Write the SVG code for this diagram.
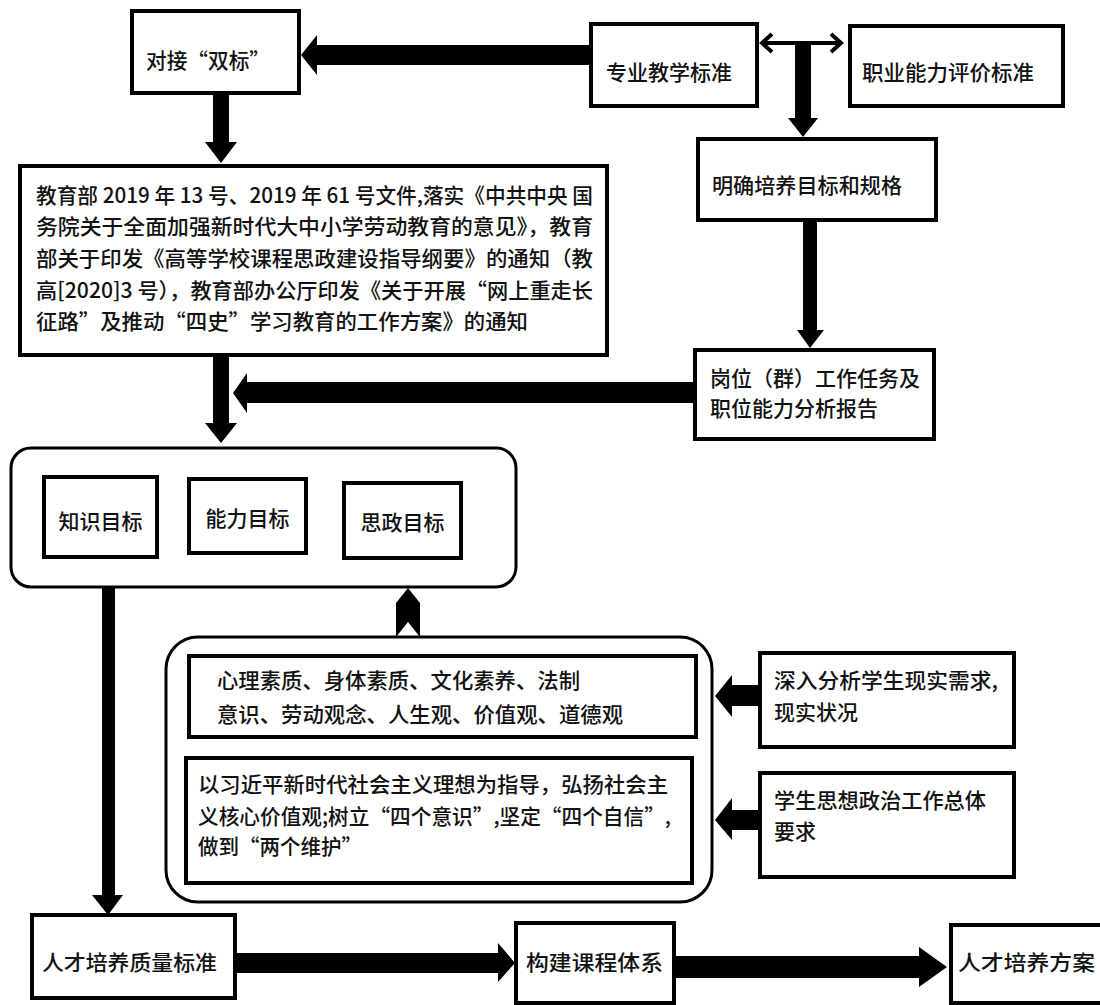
<svg xmlns="http://www.w3.org/2000/svg" width="1100" height="1005" viewBox="0 0 1100 1005">
<style>
.box{fill:#fff;stroke:#000;stroke-width:4}
.rbox{fill:#fff;stroke:#000;stroke-width:3}
.t{font-family:"Noto Sans CJK SC","Liberation Serif",sans-serif;font-size:21px;font-weight:500;fill:#111}
.arr{fill:#000;stroke:none}
</style>
<rect width="1100" height="1005" fill="#fff"/>
<g id="connectors">
<polygon class="arr" points="590,45 317,45 317,35 301,55 317,75 317,65 590,65"/>
<polygon class="arr" points="213,93 229,93 229,142 237,142 221,163 205,142 213,142"/>
<g fill="none" stroke="#000" stroke-width="4" stroke-linejoin="miter">
<line x1="762" y1="43" x2="841" y2="43"/>
<polyline points="772,34 762,43 772,52"/>
<polyline points="831,34 841,43 831,52"/>
</g>
<polygon class="arr" points="795,43 811,43 811,118 818,118 803,137 788,118 795,118"/>
<polygon class="arr" points="803,220 817,220 817,330 824,330 810,348 797,330 803,330"/>
<polygon class="arr" points="695,382 247,382 247,373 233,393 247,413 247,403 695,403"/>
<polygon class="arr" points="213,355 229,355 229,423 237,423 221,443 205,423 213,423"/>
<polygon class="arr" points="102,587 115,587 115,895 123,895 108,915 92,895 102,895"/>
<polygon class="arr" points="396,637 396,603 408,588 420,603 420,637 408,622"/>
<polygon class="arr" points="760,685 732,685 732,675 715,696 732,717 732,706 760,706"/>
<polygon class="arr" points="760,810 732,810 732,798 715,820 732,840 732,830 760,830"/>
<polygon class="arr" points="235,953 498,953 498,943 515,963 498,982 498,973 235,973"/>
<polygon class="arr" points="674,956 919,956 919,947 947,967 919,987 919,978 674,978"/>
</g>
<g id="n-duijie"><rect class="box" x="132" y="11" width="167" height="82"/><text class="t" x="146" y="68" textLength="124" lengthAdjust="spacingAndGlyphs">对接“双标”</text></g>
<g id="n-zhuanye"><rect class="box" x="591" y="24" width="166" height="82"/><text class="t" x="606" y="80" textLength="126" lengthAdjust="spacingAndGlyphs">专业教学标准</text></g>
<g id="n-zhiye"><rect class="box" x="850" y="26" width="213" height="80"/><text class="t" x="862" y="80" textLength="172" lengthAdjust="spacingAndGlyphs">职业能力评价标准</text></g>
<g id="n-mingque"><rect class="box" x="698" y="139" width="238" height="81"/><text class="t" x="712" y="193" textLength="190" lengthAdjust="spacingAndGlyphs">明确培养目标和规格</text></g>
<g id="n-gangwei"><rect class="box" x="695" y="350" width="239" height="89"/><text class="t" x="710" y="386" textLength="210" lengthAdjust="spacingAndGlyphs">岗位（群）工作任务及</text><text class="t" x="710" y="416" textLength="168" lengthAdjust="spacingAndGlyphs">职位能力分析报告</text></g>
<g id="n-jiaoyubu"><rect class="box" x="20" y="166" width="587" height="189"/>
<text class="t" x="36" y="203" textLength="557" lengthAdjust="spacingAndGlyphs">教育部 2019 年 13 号、2019 年 61 号文件,落实《中共中央  国</text>
<text class="t" x="36" y="234" textLength="557" lengthAdjust="spacingAndGlyphs">务院关于全面加强新时代大中小学劳动教育的意见》，教育</text>
<text class="t" x="36" y="266" textLength="557" lengthAdjust="spacingAndGlyphs">部关于印发《高等学校课程思政建设指导纲要》的通知（教</text>
<text class="t" x="36" y="298" textLength="557" lengthAdjust="spacingAndGlyphs">高[2020]3 号），教育部办公厅印发《关于开展“网上重走长</text>
<text class="t" x="36" y="329" textLength="492" lengthAdjust="spacingAndGlyphs">征路”及推动“四史”学习教育的工作方案》的通知</text>
</g>
<g id="n-goals"><rect class="rbox" x="11" y="448" width="505" height="139" rx="20"/>
<g id="n-zhishi"><rect class="box" x="44" y="477" width="113" height="80"/><text class="t" x="100.5" y="529" text-anchor="middle">知识目标</text></g>
<g id="n-nengli"><rect class="box" x="189" y="479" width="117" height="74"/><text class="t" x="247.5" y="526" text-anchor="middle">能力目标</text></g>
<g id="n-sizheng"><rect class="box" x="344" y="483" width="117" height="75"/><text class="t" x="402.5" y="530" text-anchor="middle">思政目标</text></g>
</g>
<g id="n-suzhi"><rect class="rbox" x="166" y="637" width="546" height="265" rx="32"/>
<g id="n-xinli"><rect class="box" x="189" y="656" width="507" height="81"/>
<text class="t" x="217" y="688" textLength="363" lengthAdjust="spacingAndGlyphs">心理素质、身体素质、文化素养、法制</text>
<text class="t" x="217" y="722" textLength="406" lengthAdjust="spacingAndGlyphs">意识、劳动观念、人生观、价值观、道德观</text></g>
<g id="n-xijinping"><rect class="box" x="186" y="758" width="506" height="125"/>
<text class="t" x="198" y="792" textLength="470" lengthAdjust="spacingAndGlyphs">以习近平新时代社会主义理想为指导，弘扬社会主</text>
<text class="t" x="198" y="824" textLength="473" lengthAdjust="spacingAndGlyphs">义核心价值观;树立“四个意识”,坚定“四个自信”,</text>
<text class="t" x="198" y="854" textLength="164" lengthAdjust="spacingAndGlyphs">做到“两个维护”</text></g>
</g>
<g id="n-shenru"><rect class="box" x="760" y="653" width="254" height="94"/><text class="t" x="774" y="688" textLength="224" lengthAdjust="spacingAndGlyphs">深入分析学生现实需求,</text><text class="t" x="774" y="720" textLength="84" lengthAdjust="spacingAndGlyphs">现实状况</text></g>
<g id="n-xuesheng"><rect class="box" x="760" y="773" width="254" height="104"/><text class="t" x="774" y="808" textLength="212" lengthAdjust="spacingAndGlyphs">学生思想政治工作总体</text><text class="t" x="774" y="839">要求</text></g>
<g id="n-zhiliang"><rect class="box" x="32" y="915" width="203" height="83"/><text class="t" x="42" y="970" textLength="175" lengthAdjust="spacingAndGlyphs">人才培养质量标准</text></g>
<g id="n-goujian"><rect class="box" x="516" y="923" width="158" height="80"/><text class="t" x="526" y="970" textLength="137" lengthAdjust="spacingAndGlyphs">构建课程体系</text></g>
<g id="n-fangan"><rect class="box" x="951" y="925" width="152" height="78"/><text class="t" x="958" y="970" textLength="137" lengthAdjust="spacingAndGlyphs">人才培养方案</text></g>
</svg>
